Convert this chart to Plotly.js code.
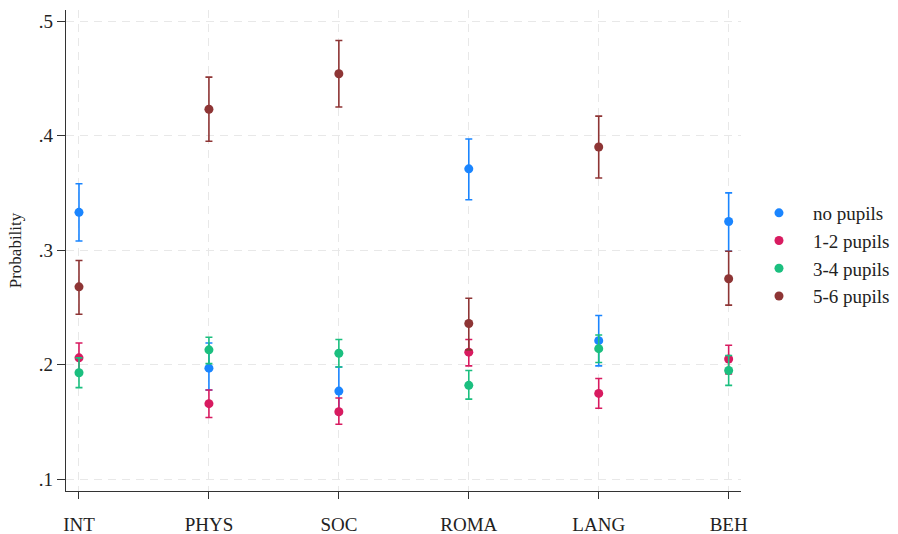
<!DOCTYPE html>
<html>
<head>
<meta charset="utf-8">
<script src="https://cdn.plot.ly/plotly-3.0.1.min.js"></script>
<style>html,body{margin:0;padding:0;background:#fff}#chart{width:898px;height:534px}</style>
</head>
<body>
<div id="chart"></div>
<script>
const categories = ["INT", "PHYS", "SOC", "ROMA", "LANG", "BEH"];
const seriesNames = ["no pupils", "1-2 pupils", "3-4 pupils", "5-6 pupils"];

const noPupils      = [0.333, 0.197, 0.177, 0.371, 0.221, 0.325];
const noPupilsLo    = [0.308, 0.178, 0.157, 0.344, 0.199, 0.299];
const noPupilsHi    = [0.358, 0.219, 0.198, 0.397, 0.243, 0.350];

const pupils12      = [0.206, 0.166, 0.159, 0.211, 0.175, 0.205];
const pupils12Lo    = [0.194, 0.154, 0.148, 0.199, 0.162, 0.192];
const pupils12Hi    = [0.219, 0.178, 0.171, 0.222, 0.188, 0.217];

const pupils34      = [0.193, 0.213, 0.210, 0.182, 0.214, 0.195];
const pupils34Lo    = [0.180, 0.201, 0.198, 0.170, 0.202, 0.182];
const pupils34Hi    = [0.206, 0.224, 0.222, 0.195, 0.226, 0.208];

const pupils56      = [0.268, 0.423, 0.454, 0.236, 0.390, 0.275];
const pupils56Lo    = [0.244, 0.395, 0.425, 0.213, 0.363, 0.252];
const pupils56Hi    = [0.291, 0.451, 0.483, 0.258, 0.417, 0.299];

const colors = ["#1a85ff", "#d81b60", "#1bbf7f", "#8e3535"];

const est = [noPupils, pupils12, pupils34, pupils56];
const lo = [noPupilsLo, pupils12Lo, pupils34Lo, pupils56Lo];
const hi = [noPupilsHi, pupils12Hi, pupils34Hi, pupils56Hi];

const traces = est.map((vals, i) => ({
  type: "scatter",
  mode: "markers",
  name: seriesNames[i],
  x: categories,
  y: vals,
  marker: {color: colors[i], size: 9},
  error_y: {
    type: "data",
    symmetric: false,
    array: hi[i].map((h, k) => h - vals[k]),
    arrayminus: vals.map((v, k) => v - lo[i][k]),
    color: colors[i],
    thickness: 1.6,
    width: 3.5
  }
}));

const fam = "Liberation Serif";

const layout = {
  width: 898, height: 534,
  margin: {l: 66, r: 157, t: 10, b: 43, autoexpand: false},
  paper_bgcolor: "#ffffff",
  plot_bgcolor: "#ffffff",
  font: {family: fam, color: "#222", size: 18},
  showlegend: true,
  legend: {
    xref: "container", yref: "container",
    x: 0.8296, y: 0.5234, xanchor: "left", yanchor: "middle",
    font: {family: fam, size: 19, color: "#222"},
    bgcolor: "rgba(0,0,0,0)",
    tracegroupgap: 0,
    itemwidth: 58
  },
  xaxis: {
    type: "category",
    range: [-0.1, 5.095],
    showline: true, linecolor: "#333", linewidth: 1.3,
    ticks: "outside", ticklen: 7, tickcolor: "#333",
    ticklabelstandoff: 9,
    showgrid: true, gridcolor: "#e8e8e8", griddash: "8px,6px", gridwidth: 1,
    zeroline: false,
    tickfont: {family: fam, size: 19, color: "#222"}
  },
  yaxis: {
    range: [0.0898, 0.5096],
    tickvals: [0.1, 0.2, 0.3, 0.4, 0.5],
    ticktext: [".1", ".2", ".3", ".4", ".5"],
    showline: true, linecolor: "#333", linewidth: 1.3,
    ticks: "outside", ticklen: 8, tickcolor: "#333",
    showgrid: true, gridcolor: "#e8e8e8", griddash: "8px,6px", gridwidth: 1,
    zeroline: false,
    tickfont: {family: fam, size: 19, color: "#222"},
    title: {text: "Probability", font: {family: fam, size: 17, color: "#222"}, standoff: 12}
  }
};

Plotly.newPlot("chart", traces, layout, {displayModeBar: false, staticPlot: true});
</script>
</body>
</html>
